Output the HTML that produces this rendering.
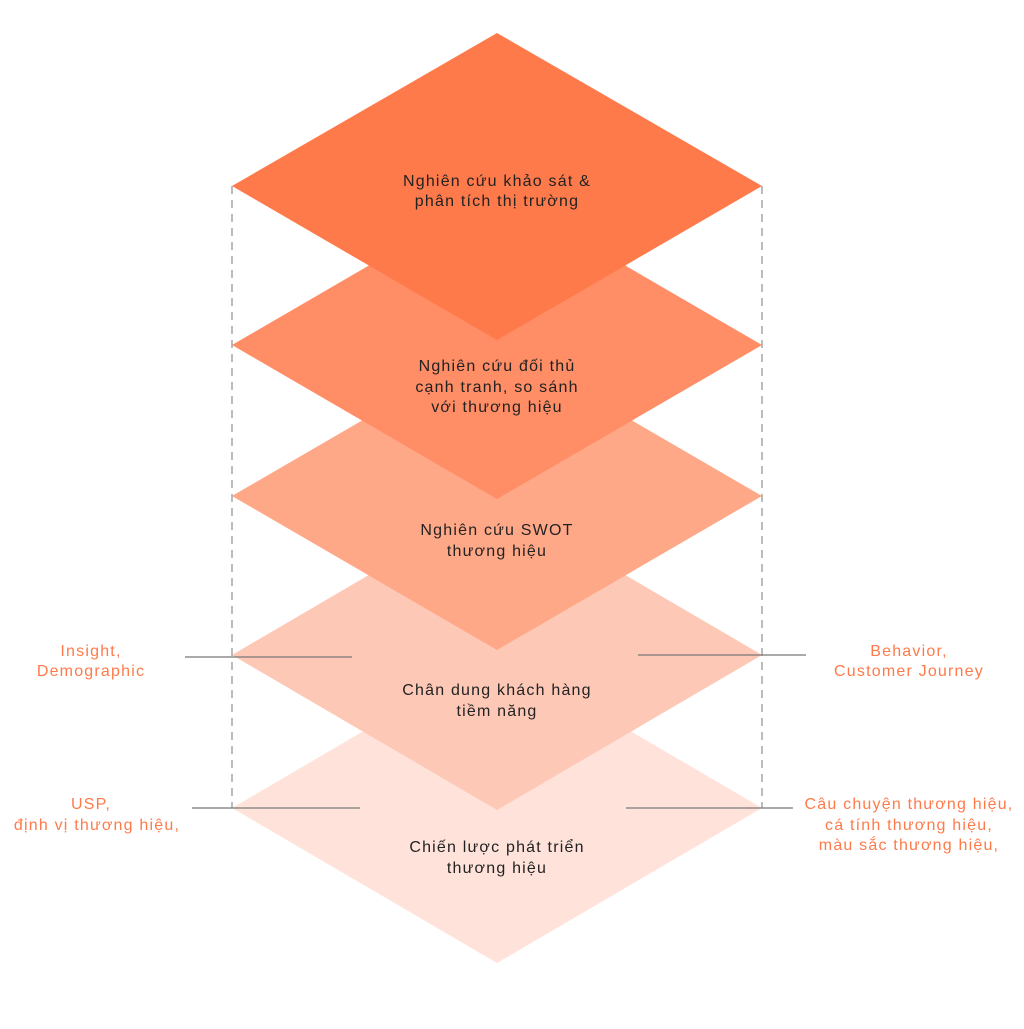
<!DOCTYPE html>
<html><head><meta charset="utf-8"><style>
html,body{margin:0;padding:0;background:#fff;}
svg text{font-family:"Liberation Sans","DejaVu Sans",sans-serif;font-size:16px;letter-spacing:1.2px;}
.d{fill:#222;}
.o{fill:#FF7A4A;}
</style></head><body>
<svg width="1024" height="1024" viewBox="0 0 1024 1024" xmlns="http://www.w3.org/2000/svg">
<polygon points="497,653 762,808 497,963 232,808" fill="#FFE3DB"/>
<polygon points="497,500 762,655 497,810 232,655" fill="#FEC8B6"/>
<polygon points="497,342 762,496 497,650 232,496" fill="#FFA888"/>
<polygon points="497,191 762,345 497,499 232,345" fill="#FF8D65"/>
<polygon points="497,33 762,186 497,340 232,186" fill="#FF7A4A"/>
<g stroke="#999" stroke-width="1.3" stroke-dasharray="8,6">
<line x1="232" y1="186" x2="232" y2="808"/>
<line x1="762" y1="186" x2="762" y2="808"/>
</g>
<g stroke="#777" stroke-width="1.2">
<line x1="185" y1="657" x2="352" y2="657"/>
<line x1="192" y1="808" x2="360" y2="808"/>
<line x1="638" y1="655" x2="806" y2="655"/>
<line x1="626" y1="808" x2="793" y2="808"/>
</g>
<g text-anchor="middle" class="d">
<text x="497" y="186" class="d">Nghiên cứu khảo sát &amp;</text>
<text x="497" y="206" class="d">phân tích thị trường</text>
<text x="497" y="371" class="d">Nghiên cứu đối thủ</text>
<text x="497" y="392" class="d">cạnh tranh, so sánh</text>
<text x="497" y="412" class="d">với thương hiệu</text>
<text x="497" y="535" class="d">Nghiên cứu SWOT</text>
<text x="497" y="556" class="d">thương hiệu</text>
<text x="497" y="695" class="d">Chân dung khách hàng</text>
<text x="497" y="716" class="d">tiềm năng</text>
<text x="497" y="852" class="d">Chiến lược phát triển</text>
<text x="497" y="873" class="d">thương hiệu</text>
<text x="91" y="656" class="o">Insight,</text>
<text x="91" y="676" class="o">Demographic</text>
<text x="909" y="656" class="o">Behavior,</text>
<text x="909" y="676" class="o">Customer Journey</text>
<text x="91" y="809" class="o">USP,</text>
<text x="97" y="830" class="o">định vị thương hiệu,</text>
<text x="909" y="809" class="o">Câu chuyện thương hiệu,</text>
<text x="909" y="830" class="o">cá tính thương hiệu,</text>
<text x="909" y="850" class="o">màu sắc thương hiệu,</text>
</g>
</svg>
</body></html>
